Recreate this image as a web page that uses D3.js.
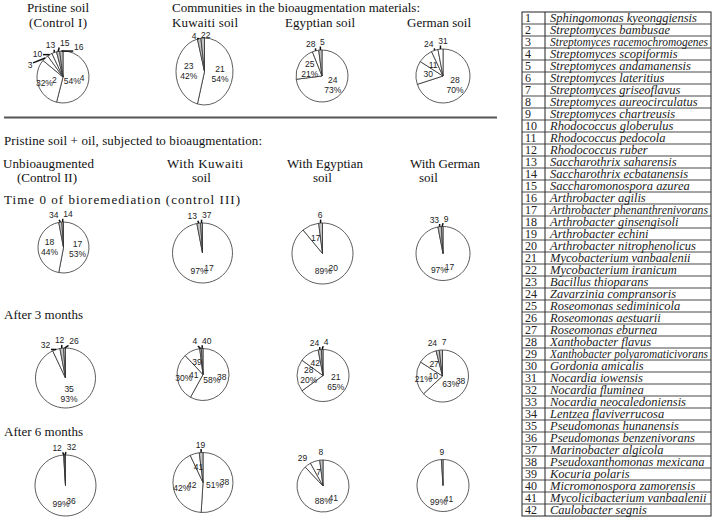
<!DOCTYPE html>
<html>
<head>
<meta charset="utf-8">
<script src="https://cdn.jsdelivr.net/npm/d3@7"></script>
<style>
	body { margin: 0; background: #fff; }
	svg { display: block; }
</style>
</head>
<body>
<svg id="view" width="714" height="522"></svg>
<script>
'use strict';

// communities in the bioaugmentation materials (species id, % of community)
const pristineCats = ["4", "2", "3", "10", "13", "15", "16"];
const pristineVals = [54, 32, 4, 3, 3, 2, 2];
const kuwaitiCats = ["21", "23", "4", "22"];
const kuwaitiVals = [54, 42, 2, 2];
const egyptianCats = ["24", "25", "28", "5"];
const egyptianVals = [73, 21, 4, 2];
const germanCats = ["28", "30", "11", "24", "31"];
const germanVals = [70, 14, 9, 4, 3];

// time 0 of bioremediation
const t0UnbioCats = ["17", "18", "34", "14"];
const t0UnbioVals = [53, 44, 2, 1];
const t0KuwaitiCats = ["17", "13", "37"];
const t0KuwaitiVals = [97, 2, 1];
const t0EgyptianCats = ["20", "17", "6"];
const t0EgyptianVals = [89, 9, 2];
const t0GermanCats = ["17", "33", "9"];
const t0GermanVals = [97, 2, 1];

// after 3 months
const m3UnbioCats = ["35", "32", "12", "26"];
const m3UnbioVals = [93, 4, 2, 1];
const m3KuwaitiCats = ["38", "41", "39", "4", "40"];
const m3KuwaitiVals = [58, 30, 10, 1, 1];
const m3EgyptianCats = ["21", "28", "42", "24", "4"];
const m3EgyptianVals = [65, 20, 12, 2, 1];
const m3GermanCats = ["38", "10", "27", "24", "7"];
const m3GermanVals = [63, 21, 12, 2, 2];

// after 6 months
const m6UnbioCats = ["36", "12", "32"];
const m6UnbioVals = [99, 0.5, 0.5];
const m6KuwaitiCats = ["38", "42", "41", "19"];
const m6KuwaitiVals = [51, 42, 5, 2];
const m6EgyptianCats = ["41", "29", "7", "8"];
const m6EgyptianVals = [88, 4, 6, 2];
const m6GermanCats = ["41", "9"];
const m6GermanVals = [99, 1];

const speciesNames = [
	"Sphingomonas kyeonggiensis", "Streptomyces bambusae", "Streptomyces racemochromogenes",
	"Streptomyces scopiformis", "Streptomyces andamanensis", "Streptomyces lateritius",
	"Streptomyces griseoflavus", "Streptomyces aureocirculatus", "Streptomyces chartreusis",
	"Rhodococcus globerulus", "Rhodococcus pedocola", "Rhodococcus ruber",
	"Saccharothrix saharensis", "Saccharothrix ecbatanensis", "Saccharomonospora azurea",
	"Arthrobacter agilis", "Arthrobacter phenanthrenivorans", "Arthrobacter ginsengisoli",
	"Arthrobacter echini", "Arthrobacter nitrophenolicus", "Mycobacterium vanbaalenii",
	"Mycobacterium iranicum", "Bacillus thioparans", "Zavarzinia compransoris",
	"Roseomonas sediminicola", "Roseomonas aestuarii", "Roseomonas eburnea",
	"Xanthobacter flavus", "Xanthobacter polyaromaticivorans", "Gordonia amicalis",
	"Nocardia iowensis", "Nocardia fluminea", "Nocardia neocaledoniensis",
	"Lentzea flaviverrucosa", "Pseudomonas hunanensis", "Pseudomonas benzenivorans",
	"Marinobacter algicola", "Pseudoxanthomonas mexicana", "Kocuria polaris",
	"Micromonospora zamorensis", "Mycolicibacterium vanbaalenii", "Caulobacter segnis"
];

// layout
const serif = "'Liberation Serif','Times New Roman',serif";
const sans = "'Liberation Sans',Arial,sans-serif";

const svg = d3.select("#view");

const heads = [
	{t: "Pristine soil", x: 27, y: 12, w: 62},
	{t: "(Control I)", x: 29, y: 27, w: 58},
	{t: "Communities in the bioaugmentation materials:", x: 172, y: 12, w: 248},
	{t: "Kuwaiti soil", x: 172, y: 27, w: 66},
	{t: "Egyptian soil", x: 285, y: 27, w: 70},
	{t: "German soil", x: 407, y: 27, w: 64},
	{t: "Pristine soil + oil, subjected to bioaugmentation:", x: 4, y: 145, w: 258},
	{t: "Unbioaugmented", x: 3, y: 168, w: 91},
	{t: "(Control II)", x: 17, y: 181.5, w: 60},
	{t: "With Kuwaiti", x: 167, y: 168, w: 76},
	{t: "soil", x: 192, y: 181.5},
	{t: "With Egyptian", x: 287, y: 168, w: 76},
	{t: "soil", x: 313, y: 181.5},
	{t: "With German", x: 410, y: 168, w: 70},
	{t: "soil", x: 419, y: 181.5},
	{t: "Time 0 of bioremediation (control III)", x: 4, y: 204, w: 236},
	{t: "After 3 months", x: 4, y: 319, w: 79},
	{t: "After 6 months", x: 4, y: 436, w: 79}
];

svg.append("g").selectAll("text").data(heads).join("text")
	.attr("x", d => d.x).attr("y", d => d.y)
	.attr("font-family", serif).attr("font-size", 13).attr("fill", "#111")
	.attr("textLength", d => d.w || null)
	.attr("lengthAdjust", "spacing")
	.text(d => d.t);

svg.append("line")
	.attr("x1", 4).attr("x2", 497).attr("y1", 117.5).attr("y2", 117.5)
	.attr("stroke", "#555").attr("stroke-width", 2);

const pies = [
	{cats: pristineCats, vals: pristineVals, cx: 63, cy: 77, rx: 26, ry: 26, leaders: true, stack: false},
	{cats: kuwaitiCats, vals: kuwaitiVals, cx: 204.5, cy: 71.5, rx: 28.5, ry: 33.5, leaders: true, stack: true},
	{cats: egyptianCats, vals: egyptianVals, cx: 322, cy: 76, rx: 26, ry: 26, leaders: true, stack: true},
	{cats: germanCats, vals: germanVals, cx: 443, cy: 76, rx: 27, ry: 27, leaders: true, stack: true},
	{cats: t0UnbioCats, vals: t0UnbioVals, cx: 63.5, cy: 247.5, rx: 25.5, ry: 25.5, leaders: true, stack: true},
	{cats: t0KuwaitiCats, vals: t0KuwaitiVals, cx: 202.5, cy: 253, rx: 30, ry: 30, leaders: true, stack: false},
	{cats: t0EgyptianCats, vals: t0EgyptianVals, cx: 322.5, cy: 253.5, rx: 30.5, ry: 30.5, leaders: true, stack: false},
	{cats: t0GermanCats, vals: t0GermanVals, cx: 443, cy: 253.5, rx: 27, ry: 27, leaders: true, stack: false},
	{cats: m3UnbioCats, vals: m3UnbioVals, cx: 65.5, cy: 378, rx: 30, ry: 30, leaders: true, stack: true},
	{cats: m3KuwaitiCats, vals: m3KuwaitiVals, cx: 203, cy: 374.5, rx: 26, ry: 26, leaders: true, stack: false},
	{cats: m3EgyptianCats, vals: m3EgyptianVals, cx: 323, cy: 375.5, rx: 26, ry: 26, leaders: true, stack: true},
	{cats: m3GermanCats, vals: m3GermanVals, cx: 442.5, cy: 376, rx: 26, ry: 26, leaders: false, stack: false},
	{cats: m6UnbioCats, vals: m6UnbioVals, cx: 65.5, cy: 485.5, rx: 30.5, ry: 30.5, leaders: true, stack: false},
	{cats: m6KuwaitiCats, vals: m6KuwaitiVals, cx: 203, cy: 482.5, rx: 30, ry: 30, leaders: true, stack: false},
	{cats: m6EgyptianCats, vals: m6EgyptianVals, cx: 323, cy: 486, rx: 26, ry: 26, leaders: false, stack: false},
	{cats: m6GermanCats, vals: m6GermanVals, cx: 443, cy: 485.5, rx: 26, ry: 26, leaders: false, stack: false}
];

const pie = d3.pie().sort(null).value(d => d.v);
const at = (a, kx, ky) => [kx * Math.sin(a), -ky * Math.cos(a)];

// spread outside labels along the rim so that neighbours do not collide
const relax = (labels, R) => {
	const size = l => Math.abs(Math.cos(l.a)) * l.w + Math.abs(Math.sin(l.a)) * l.h;
	for (let it = 0; it < 200; it++) {
		for (let i = 0; i + 1 < labels.length; i++) {
			const a = labels[i], b = labels[i + 1];
			const need = ((size(a) + size(b)) / 2 + 2) / R;
			const gap = b.a - a.a;
			if (gap < need) {
				a.a -= (need - gap) / 2;
				b.a += (need - gap) / 2;
			}
		}
	}
};

const drawPie = (g, p) => {
	const data = p.cats.map((c, i) => ({cat: c, v: p.vals[i]}));
	const arcs = pie(data);
	const arc = d3.arc().innerRadius(0).outerRadius(p.rx);

	g.append("g").attr("transform", `scale(1,${p.ry / p.rx})`)
		.selectAll("path").data(arcs).join("path")
		.attr("d", arc)
		.attr("fill", d => d.data.v <= 2 ? "#c4c4c4" : "#fff")
		.attr("stroke", "#333").attr("stroke-width", 0.8)
		.attr("vector-effect", "non-scaling-stroke");

	const inside = [], outside = [];
	arcs.forEach(d => {
		const a = (d.startAngle + d.endAngle) / 2;
		if (d.data.v >= 5) {
			const [x, y] = at(a, 0.55 * p.rx, 0.55 * p.ry);
			inside.push({x, y, cat: d.data.cat, pct: d.data.v >= 20 ? d.data.v + "%" : null});
		} else {
			const [ex, ey] = at(a, p.rx, p.ry);
			outside.push({a, ex, ey, cat: d.data.cat, w: d.data.cat.length * 5 + 1, h: 9});
		}
	});
	relax(outside, p.rx + 9);
	outside.forEach(l => {
		[l.x, l.y] = at(l.a, p.rx + 9, p.rx + 8);
	});

	const txt = (x, y, t) => g.append("text")
		.attr("x", x).attr("y", y).attr("dy", "0.35em")
		.attr("text-anchor", "middle")
		.attr("font-family", sans).attr("font-size", 8.5).attr("fill", "#222")
		.text(t);

	if (p.leaders) {
		outside.forEach(l => {
			const lx = Math.max(l.x - l.w / 2, Math.min(l.ex, l.x + l.w / 2));
			const ly = Math.max(l.y - l.h / 2 + 2, Math.min(l.ey, l.y + l.h / 2));
			g.append("line")
				.attr("x1", l.ex).attr("y1", l.ey).attr("x2", lx).attr("y2", ly)
				.attr("stroke", "#111").attr("stroke-width", 1.5);
		});
	}
	outside.forEach(l => txt(l.x, l.y, l.cat));

	inside.forEach(l => {
		if (!l.pct) txt(l.x, l.y, l.cat);
		else if (p.stack) {
			txt(l.x, l.y - 5, l.cat);
			txt(l.x, l.y + 5, l.pct);
		} else {
			txt(l.x - 5, l.y + 2, l.pct);
			txt(l.x + 5, l.y - 1, l.cat);
		}
	});
};

pies.forEach(p => drawPie(svg.append("g").attr("transform", `translate(${p.cx},${p.cy})`), p));

// species table
const x0 = 522, x1 = 545, x2 = 711;
const row = d3.scaleBand().domain(speciesNames.map((_, i) => i + 1)).range([12, 516]);

const table = svg.append("g");
table.append("rect")
	.attr("x", x0).attr("y", 12).attr("width", x2 - x0).attr("height", 504)
	.attr("fill", "none").attr("stroke", "#222").attr("stroke-width", 1);
table.append("line")
	.attr("x1", x1).attr("x2", x1).attr("y1", 12).attr("y2", 516)
	.attr("stroke", "#222");

const rows = table.selectAll("g.row").data(speciesNames).join("g")
	.attr("class", "row")
	.attr("transform", (d, i) => `translate(0,${row(i + 1)})`);

rows.filter((d, i) => i > 0).append("line")
	.attr("x1", x0).attr("x2", x2).attr("y1", 0).attr("y2", 0)
	.attr("stroke", "#333").attr("stroke-width", 0.9);

rows.append("text")
	.attr("x", x0 + 3).attr("y", 10)
	.attr("font-family", serif).attr("font-size", 12).attr("fill", "#222")
	.text((d, i) => i + 1);

rows.append("text")
	.attr("x", x1 + 5).attr("y", 10)
	.attr("font-family", serif).attr("font-size", 12.5).attr("font-style", "italic").attr("fill", "#222")
	.text(d => d)
	.each(function () {
		if (this.getComputedTextLength() > x2 - x1 - 8) {
			d3.select(this).attr("textLength", x2 - x1 - 8).attr("lengthAdjust", "spacingAndGlyphs");
		}
	});
</script>
</body>
</html>
